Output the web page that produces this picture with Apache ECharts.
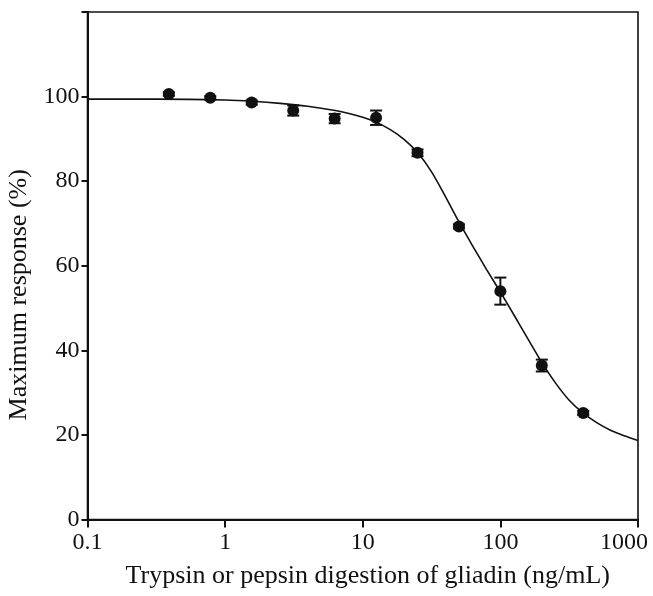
<!DOCTYPE html>
<html>
<head>
<meta charset="utf-8">
<script src="https://cdn.jsdelivr.net/npm/echarts@6/dist/echarts.min.js"></script>
<style>
html,body{margin:0;padding:0;background:#fff;}
#chart{width:653px;height:596px;}
</style>
</head>
<body>
<div id="chart"></div>
<script>
// Measured points (two-fold dilutions)
const concentrations = [0.39, 0.78, 1.56, 3.125, 6.25, 12.5, 25, 50, 100, 200, 400];
const responses = [100.6, 99.7, 98.6, 96.7, 94.8, 95.0, 86.7, 69.3, 54.0, 36.4, 25.2];
const errors = [0.4, 0.4, 0.5, 1.2, 1.1, 1.7, 0.8, 0.5, 3.2, 1.4, 0.5];

// Fitted curve
const curveX = [0.1, 0.316, 1, 1.585, 2.512, 3.981, 6.31, 7.943, 10, 12.59, 15.85, 19.95, 25.12, 31.62, 39.81, 50.12, 63.1, 79.43, 100, 125.9, 158.5, 199.5, 251.2, 316.2, 398.1, 501.2, 631, 794.3, 1000];
const curveY = [99.4, 99.4, 99.2, 98.9, 98.4, 97.7, 96.7, 96.0, 95.1, 93.9, 92.2, 89.9, 86.7, 82.2, 76.4, 70.3, 64.6, 59.1, 53.8, 48.3, 42.7, 37.2, 32.3, 28.2, 25.2, 22.9, 21.1, 19.8, 18.7];

const yTicks = [0, 20, 40, 60, 80, 100];
const xTitle = 'Trypsin or pepsin digestion of gliadin (ng/mL)';
const yTitle = 'Maximum response (%)';

const FONT = 'Liberation Serif';
const INK = '#111';

const chart = echarts.init(document.getElementById('chart'));

const pointData = concentrations.map((x, i) => [x, responses[i]]);
const errData = concentrations.map((x, i) => [x, responses[i], errors[i]]);
const curveData = curveX.map((x, i) => [x, curveY[i]]);

chart.setOption({
  animation: false,
  backgroundColor: '#fff',
  grid: {
    left: 87.5, right: 15, top: 12, bottom: 76.5,
    outerBoundsMode: 'none', containLabel: false,
    show: true, borderColor: INK, borderWidth: 1.6, backgroundColor: 'transparent'
  },
  xAxis: {
    type: 'log', logBase: 10, min: 0.1, max: 1000,
    name: xTitle, nameLocation: 'middle', nameGap: 44,
    nameTextStyle: { fontFamily: FONT, fontSize: 26, color: INK, padding: [0, 0, 0, 10] },
    axisLine: { show: true, lineStyle: { color: INK, width: 2 } },
    axisTick: { show: true, inside: false, length: 8, lineStyle: { color: INK, width: 2 } },
    minorTick: { show: false },
    splitLine: { show: false },
    axisLabel: {
      fontFamily: FONT, fontSize: 24, color: INK, margin: 11,
      formatter: v => {
        const s = String(+(+v).toPrecision(6));
        return s === '1000' ? '{last|' + s + '}' : s;
      },
      rich: { last: { fontFamily: FONT, fontSize: 24, color: INK, padding: [0, 28, 0, 0] } }
    }
  },
  yAxis: {
    type: 'value', min: 0, max: 120, interval: 20,
    name: yTitle, nameLocation: 'middle', nameGap: 53,
    nameTextStyle: { fontFamily: FONT, fontSize: 26, color: INK, padding: [0, 58, 0, 0] },
    axisLine: { show: true, lineStyle: { color: INK, width: 2 } },
    axisTick: { show: true, inside: false, length: 6, lineStyle: { color: INK, width: 2 } },
    splitLine: { show: false },
    axisLabel: {
      fontFamily: FONT, fontSize: 24, color: INK, margin: 8,
      formatter: v => (yTicks.indexOf(v) >= 0 ? String(v) : '')
    }
  },
  series: [
    {
      type: 'line', data: curveData, smooth: 0.3,
      showSymbol: false, symbol: 'none',
      lineStyle: { color: INK, width: 1.6 }, z: 2
    },
    {
      type: 'custom', data: errData, z: 3,
      renderItem: function (params, api) {
        const x = api.value(0), y = api.value(1), e = api.value(2);
        const top = api.coord([x, y + e]);
        const bot = api.coord([x, y - e]);
        const hw = 6;
        return {
          type: 'group',
          children: [
            { type: 'line', shape: { x1: top[0], y1: top[1], x2: bot[0], y2: bot[1] }, style: { stroke: INK, lineWidth: 2 } },
            { type: 'line', shape: { x1: top[0] - hw, y1: top[1], x2: top[0] + hw, y2: top[1] }, style: { stroke: INK, lineWidth: 2 } },
            { type: 'line', shape: { x1: bot[0] - hw, y1: bot[1], x2: bot[0] + hw, y2: bot[1] }, style: { stroke: INK, lineWidth: 2 } }
          ]
        };
      }
    },
    {
      type: 'scatter', data: pointData, symbol: 'circle', symbolSize: 12,
      itemStyle: { color: INK, opacity: 1 }, z: 4
    }
  ]
});
</script>
</body>
</html>
